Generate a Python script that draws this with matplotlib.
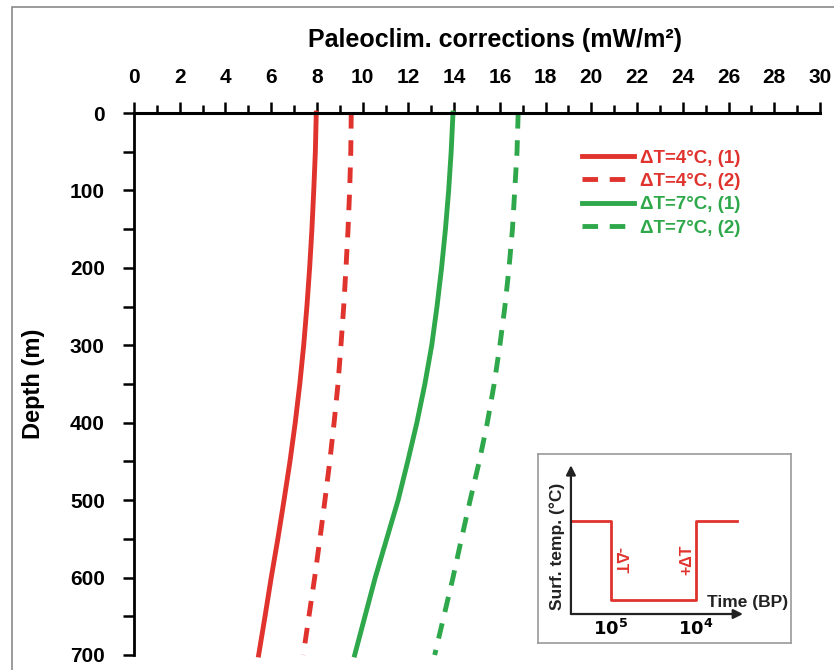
import numpy as np
import matplotlib
matplotlib.use('Agg')
import matplotlib.pyplot as plt
from matplotlib.patches import Rectangle
from matplotlib.ticker import MultipleLocator

plt.rcParams['font.family'] = ['Liberation Sans', 'DejaVu Sans']

# paleoclimatic corrections (mW/m2) vs depth (m)
depth = [0, 50, 100, 150, 200, 250, 300, 350, 400, 450, 500, 550, 600, 650, 700]
dT4_1 = [7.97, 7.93, 7.86, 7.78, 7.68, 7.56, 7.42, 7.25, 7.05, 6.82, 6.56, 6.29,
         6.0, 5.73, 5.45]
dT4_2 = [9.5, 9.48, 9.43, 9.36, 9.27, 9.17, 9.05, 8.92, 8.75, 8.56, 8.35, 8.13,
         7.9, 7.65, 7.4]
dT7_1 = [13.95, 13.87, 13.76, 13.62, 13.45, 13.25, 13.02, 12.72, 12.37, 11.97,
         11.55, 11.05, 10.55, 10.1, 9.65]
dT7_2 = [16.8, 16.75, 16.65, 16.55, 16.4, 16.22, 16.0, 15.75, 15.45, 15.1, 14.7,
         14.32, 13.95, 13.55, 13.15]
labels = ['\u0394T=4\u00b0C, (1)', '\u0394T=4\u00b0C, (2)',
          '\u0394T=7\u00b0C, (1)', '\u0394T=7\u00b0C, (2)']

# glacial step history for the inset sketch
step_t = [0, 1, 1, 3.125, 3.125, 4.15]
step_T = [2.33, 2.33, 0.35, 0.35, 2.33, 2.33]

red = '#e0332e'
green = '#2ea84a'

fig = plt.figure(figsize=(8.34, 6.70), dpi=100)
fig.patches.append(Rectangle((12/834, -0.1), 1.2, 1 - 7/670 + 0.1,
                             transform=fig.transFigure, fill=False,
                             edgecolor='#8a8a8a', lw=1.2))

ax = fig.add_axes([0.1607, 0.0224, 0.8225, 0.8089])
dash = (3.2, 2.4)
ax.plot(dT4_1, depth, color=red, lw=3.5, label=labels[0], clip_on=False)
ax.plot(dT4_2, depth, color=red, lw=3.5, dashes=dash, label=labels[1], clip_on=False)
ax.plot(dT7_1, depth, color=green, lw=3.5, label=labels[2], clip_on=False)
ax.plot(dT7_2, depth, color=green, lw=3.5, dashes=dash, label=labels[3], clip_on=False)

ax.set_xlim(0, 30)
ax.set_ylim(700, 0)
ax.xaxis.tick_top()
ax.xaxis.set_label_position('top')
ax.xaxis.set_major_locator(MultipleLocator(2))
ax.xaxis.set_minor_locator(MultipleLocator(1))
ax.yaxis.set_major_locator(MultipleLocator(100))
ax.yaxis.set_minor_locator(MultipleLocator(50))
ax.tick_params(axis='x', which='major', direction='out', length=8, width=1.8,
               pad=11, labelsize=15)
ax.tick_params(axis='x', which='minor', direction='out', length=5.5, width=1.8)
ax.tick_params(axis='y', which='both', direction='out', length=8, width=1.8,
               pad=13, labelsize=15)
for t in ax.get_yticklabels() + ax.get_xticklabels():
    t.set_fontweight('bold')
for s in ['right', 'bottom']:
    ax.spines[s].set_visible(False)
ax.spines['top'].set_linewidth(2.2)
ax.spines['left'].set_linewidth(2)

ax.set_xlabel('Paleoclim. corrections (mW/m\u00b2)', fontsize=18,
              fontweight='bold', labelpad=15)
ax.xaxis.label.set_x(0.526)
ax.set_ylabel('Depth (m)', fontsize=17, fontweight='bold', labelpad=18)

leg = ax.legend(loc='upper left', bbox_to_anchor=(0.64, 0.95), frameon=False,
                borderpad=0, handlelength=2.75, handletextpad=0.3,
                labelspacing=0.33, prop=dict(weight='bold', size=13.5))
for text, line in zip(leg.get_texts(), leg.get_lines()):
    text.set_color(line.get_color())

# inset: schematic surface temperature history
ins = fig.add_axes([0.645, 0.0403, 0.3034, 0.282])
ins.set_xlim(-0.825, 5.5)
ins.set_ylim(-0.725, 4.0)
ins.set_xticks([])
ins.set_yticks([])
for s in ins.spines.values():
    s.set_color('#9a9a9a')
    s.set_linewidth(1.2)
ins.annotate('', xy=(0, 3.72), xytext=(0, 0),
             arrowprops=dict(arrowstyle='-|>', color='#222222', lw=1.6,
                             mutation_scale=14, shrinkA=0, shrinkB=0))
ins.annotate('', xy=(4.3, 0), xytext=(0, 0),
             arrowprops=dict(arrowstyle='-|>', color='#222222', lw=1.6,
                             mutation_scale=14, shrinkA=0, shrinkB=0))
ins.plot(step_t, step_T, color=red, lw=2)
ins.text(1, -0.37, r'$\mathbf{10^5}$', ha='center', va='center', fontsize=13)
ins.text(3.125, -0.37, r'$\mathbf{10^4}$', ha='center', va='center', fontsize=13)
ins.text(3.4, 0.28, 'Time (BP)', ha='left', va='center', fontsize=12.5,
         fontweight='bold', color='#222222')
ins.text(-0.35, 1.68, 'Surf. temp. (\u00b0C)', ha='center', va='center',
         rotation=90, fontsize=12.5, fontweight='bold', color='#222222')
ins.text(1.22, 1.35, '-\u0394T', ha='center', va='center', rotation=-90,
         fontsize=11.5, fontweight='bold', color=red)
ins.text(2.9, 1.35, '+\u0394T', ha='center', va='center', rotation=90,
         fontsize=11.5, fontweight='bold', color=red)

plt.savefig('out.png', dpi=100)
plt.close()
